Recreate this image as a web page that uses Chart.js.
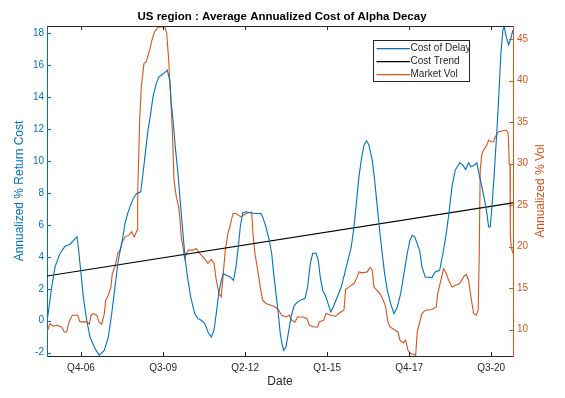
<!DOCTYPE html>
<html>
<head>
<meta charset="utf-8">
<script src="https://cdn.jsdelivr.net/npm/chart.js@4.4.1/dist/chart.umd.min.js"></script>
<style>
  html, body { margin: 0; padding: 0; background: #fff; }
  #wrap { position: relative; width: 565px; height: 398px; }
</style>
</head>
<body>
<div id="wrap"><canvas id="AlphaChart"></canvas></div>
<script>
// values (x in decimal years)
const costDates = [2005.634, 2005.678, 2005.768, 2005.879, 2006.046, 2006.214, 2006.381, 2006.525, 2006.616, 2006.66,
  2006.75, 2006.827, 2006.941, 2007.052, 2007.219, 2007.363, 2007.531, 2007.665, 2007.779, 2007.889,
  2008.0, 2008.134, 2008.225, 2008.315, 2008.392, 2008.503, 2008.617, 2008.751, 2008.828, 2008.905,
  2008.995, 2009.086, 2009.163, 2009.273, 2009.364, 2009.498, 2009.642, 2009.723, 2009.776, 2009.833,
  2009.91, 2010.0, 2010.091, 2010.168, 2010.245, 2010.336, 2010.426, 2010.56, 2010.671, 2010.782,
  2010.895, 2011.006, 2011.117, 2011.207, 2011.284, 2011.365, 2011.452, 2011.519, 2011.619, 2011.743,
  2011.861, 2011.944, 2012.021, 2012.088, 2012.169, 2012.28, 2012.447, 2012.615, 2012.782, 2012.839,
  2012.95, 2013.061, 2013.141, 2013.208, 2013.285, 2013.362, 2013.429, 2013.486, 2013.543, 2013.62,
  2013.697, 2013.787, 2013.898, 2014.012, 2014.146, 2014.257, 2014.347, 2014.434, 2014.515, 2014.625,
  2014.702, 2014.769, 2014.85, 2014.961, 2015.119, 2015.205, 2015.339, 2015.473, 2015.587, 2015.698,
  2015.808, 2015.899, 2015.989, 2016.066, 2016.143, 2016.234, 2016.325, 2016.402, 2016.512, 2016.593,
  2016.68, 2016.77, 2016.847, 2016.927, 2017.015, 2017.129, 2017.24, 2017.35, 2017.464, 2017.575,
  2017.685, 2017.776, 2017.853, 2017.933, 2018.02, 2018.10, 2018.178, 2018.288, 2018.513, 2018.623,
  2018.771, 2018.881, 2018.992, 2019.082, 2019.183, 2019.293, 2019.441, 2019.552, 2019.642, 2019.743,
  2019.82, 2019.93, 2020.021, 2020.088, 2020.188, 2020.279, 2020.356, 2020.413, 2020.467, 2020.524,
  2020.601, 2020.691, 2020.758, 2020.825, 2020.892, 2020.936, 2021.003, 2021.083, 2021.16, 2021.227];
const costValues = [0.23, 0.86, 2.11, 3.37, 4.21, 4.66, 4.79, 5.08, 5.25, 4.62,
  2.95, 1.49, 0.03, -1.02, -1.75, -2.17, -1.86, -1.02, 0.45, 2.11,
  3.79, 5.04, 6.09, 6.72, 7.13, 7.66, 7.97, 8.07, 9.22, 10.48,
  11.94, 12.99, 14.03, 14.87, 15.28, 15.45, 15.70, 15.07, 13.61, 12.57,
  10.89, 9.22, 7.13, 5.46, 3.79, 2.53, 1.49, 0.45, 0.13, 0.03,
  -0.18, -0.71, -1.02, -0.60, 0.45, 1.70, 2.53, 2.95, 2.85, 2.74,
  2.53, 3.37, 4.62, 5.87, 6.75, 6.82, 6.75, 6.72, 6.72, 6.50,
  5.87, 5.04, 4.21, 2.95, 1.70, 0.45, -0.81, -1.44, -1.86, -1.65,
  -0.81, 0.23, 0.97, 1.17, 1.32, 1.39, 2.11, 3.58, 4.21, 4.24,
  3.79, 2.74, 1.91, 1.49, 0.55, 0.86, 1.49, 2.11, 2.95, 3.79,
  4.62, 5.87, 7.55, 9.01, 10.06, 11.0, 11.27, 11.0, 10.06, 8.80,
  7.13, 5.46, 4.21, 2.95, 1.91, 1.07, 0.45, 0.86, 1.70, 2.95,
  4.21, 5.04, 5.35, 5.25, 4.83, 4.41, 3.37, 2.74, 2.70, 3.05,
  3.16, 4.21, 5.46, 6.72, 8.38, 9.43, 9.89, 9.74, 9.47, 9.89,
  9.64, 9.74, 9.89, 9.22, 8.38, 7.55, 6.72, 5.87, 5.87, 7.13,
  9.22, 11.94, 14.24, 16.75, 18.21, 18.42, 17.79, 17.27, 17.69, 18.21];

const trendDates = [2005.61, 2021.23];
const trendValues = [2.80, 7.38];

const volDates = [2005.634, 2005.711, 2005.822, 2005.936, 2006.103, 2006.19, 2006.271, 2006.348, 2006.458, 2006.639,
  2006.716, 2006.941, 2007.028, 2007.085, 2007.162, 2007.276, 2007.353, 2007.444, 2007.531, 2007.578,
  2007.665, 2007.755, 2007.799, 2007.889, 2007.98, 2008.057, 2008.134, 2008.225, 2008.359, 2008.449,
  2008.536, 2008.627, 2008.65, 2008.717, 2008.771, 2008.861, 2008.938, 2009.052, 2009.129, 2009.22,
  2009.33, 2009.555, 2009.622, 2009.689, 2009.756, 2009.81, 2009.867, 2009.944, 2010.024, 2010.068,
  2010.111, 2010.168, 2010.225, 2010.279, 2010.359, 2010.503, 2010.614, 2010.728, 2010.839, 2011.006,
  2011.117, 2011.207, 2011.284, 2011.375, 2011.452, 2011.509, 2011.586, 2011.676, 2011.767, 2011.844,
  2011.944, 2012.112, 2012.28, 2012.47, 2012.514, 2012.581, 2012.672, 2012.759, 2012.839, 2012.95,
  2013.118, 2013.262, 2013.376, 2013.477, 2013.62, 2013.731, 2013.811, 2013.922, 2014.012, 2014.18,
  2014.324, 2014.401, 2014.569, 2014.682, 2014.736, 2014.883, 2014.961, 2015.119, 2015.285, 2015.453,
  2015.564, 2015.62, 2015.731, 2015.899, 2016.01, 2016.066, 2016.177, 2016.345, 2016.435, 2016.512,
  2016.569, 2016.66, 2016.77, 2016.881, 2016.961, 2017.038, 2017.106, 2017.24, 2017.374, 2017.441,
  2017.552, 2017.632, 2017.709, 2017.799, 2017.967, 2018.02, 2018.178, 2018.288, 2018.513, 2018.657,
  2018.704, 2018.814, 2018.905, 2018.992, 2019.072, 2019.183, 2019.293, 2019.441, 2019.575, 2019.662,
  2019.743, 2019.82, 2019.91, 2019.997, 2020.064, 2020.098, 2020.131, 2020.188, 2020.245, 2020.356,
  2020.413, 2020.49, 2020.581, 2020.634, 2020.748, 2020.892, 2021.003, 2021.07, 2021.104, 2021.13,
  2021.14, 2021.17, 2021.227];
const volValues = [9.92, 10.72, 10.40, 10.52, 10.31, 9.71, 9.71, 10.92, 11.73, 11.73,
  10.92, 10.92, 10.64, 11.73, 11.93, 11.73, 10.92, 10.64, 11.93, 13.54,
  14.14, 15.14, 16.76, 17.56, 19.17, 19.57, 20.57, 21.18, 21.38, 21.78,
  21.18, 21.98, 26.41, 35.26, 39.28, 42.10, 42.30, 43.71, 44.92, 45.92,
  46.45, 46.52, 45.72, 42.50, 38.07, 34.05, 28.02, 26.0, 24.80, 23.19,
  21.18, 19.97, 18.57, 19.17, 19.57, 19.57, 19.78, 19.17, 18.76, 17.97,
  18.45, 17.97, 15.95, 14.34, 13.93, 16.35, 19.57, 21.59, 22.79, 24.0,
  24.0, 23.59, 24.0, 24.19, 21.59, 19.17, 17.16, 15.14, 13.54, 13.14,
  12.93, 12.73, 12.33, 11.73, 11.52, 11.73, 11.12, 10.92, 11.52, 11.52,
  11.33, 10.52, 10.31, 10.31, 10.92, 11.12, 11.93, 11.73, 11.61, 12.12,
  12.33, 14.83, 15.14, 15.55, 16.35, 16.95, 16.83, 16.95, 17.48, 17.16,
  15.14, 14.74, 14.34, 13.54, 12.73, 10.92, 10.31, 10.0, 9.71, 8.71,
  8.38, 8.71, 7.50, 7.10, 6.90, 9.71, 11.93, 12.33, 12.41, 12.73,
  14.34, 15.95, 17.36, 16.76, 15.95, 15.14, 15.35, 15.55, 16.35, 16.67,
  15.95, 13.93, 11.93, 11.73, 12.33, 19.17, 29.23, 31.24, 31.64, 32.24,
  32.85, 32.64, 32.64, 33.25, 33.85, 33.97, 34.05, 33.66, 30.04, 29.9,
  21.5, 20.0, 19.2];

const xTickValues = [2006.75, 2009.5, 2012.25, 2015.0, 2017.75, 2020.5];
const xTickLabels = ['Q4-06', 'Q3-09', 'Q2-12', 'Q1-15', 'Q4-17', 'Q3-20'];
const leftTicks = [-2, 0, 2, 4, 6, 8, 10, 12, 14, 16, 18];
const rightTicks = [10, 15, 20, 25, 30, 35, 40, 45];

const BLUE = '#0072BD';
const ORANGE = '#D95319';
const AXIS = '#262626';
const FONT = '"Liberation Sans", Arial, Helvetica, sans-serif';

const pairs = (xs, ys) => xs.map((x, i) => ({ x: x, y: ys[i] }));

// title, axis labels, legend box, inward tick marks and top border
const matlabLook = {
  id: 'matlabLook',
  afterDraw(chart) {
    const c = chart.ctx;
    const a = chart.chartArea;
    const sx = chart.scales.x, sy = chart.scales.y, sy1 = chart.scales.y1;
    c.save();
    c.lineWidth = 1;

    c.strokeStyle = AXIS;
    c.beginPath();
    c.moveTo(a.left, a.top + 0.5);
    c.lineTo(a.right, a.top + 0.5);
    c.stroke();
    xTickValues.forEach(v => {
      const px = Math.round(sx.getPixelForValue(v)) + 0.5;
      c.beginPath();
      c.moveTo(px, a.bottom); c.lineTo(px, a.bottom - 4);
      c.moveTo(px, a.top); c.lineTo(px, a.top + 4);
      c.stroke();
    });
    c.strokeStyle = BLUE;
    leftTicks.forEach(v => {
      const py = Math.round(sy.getPixelForValue(v)) + 0.5;
      c.beginPath(); c.moveTo(a.left, py); c.lineTo(a.left + 4, py); c.stroke();
    });
    c.strokeStyle = ORANGE;
    rightTicks.forEach(v => {
      const py = Math.round(sy1.getPixelForValue(v)) + 0.5;
      c.beginPath(); c.moveTo(a.right, py); c.lineTo(a.right - 4, py); c.stroke();
    });

    c.fillStyle = '#000';
    c.font = 'bold 11.5px ' + FONT;
    c.textAlign = 'center';
    c.textBaseline = 'alphabetic';
    c.fillText('US region : Average Annualized Cost of Alpha Decay', 282, 20);

    c.font = '12px ' + FONT;
    c.fillStyle = AXIS;
    c.textBaseline = 'middle';
    c.fillText('Date', (a.left + a.right) / 2, 382);

    const midY = (a.top + a.bottom) / 2;
    c.save();
    c.translate(20, midY);
    c.rotate(-Math.PI / 2);
    c.fillStyle = BLUE;
    c.fillText('Annualized % Return Cost', 0, 0);
    c.restore();
    c.save();
    c.translate(541, midY);
    c.rotate(-Math.PI / 2);
    c.fillStyle = ORANGE;
    c.fillText('Annualized % Vol', 0, 0);
    c.restore();

    // legend
    const lx = 373.5, ly = 40.5, lw = 96, lh = 41;
    c.fillStyle = '#fff';
    c.fillRect(lx, ly, lw, lh);
    c.strokeStyle = AXIS;
    c.strokeRect(lx, ly, lw, lh);
    const items = chart.data.datasets;
    c.font = '10px ' + FONT;
    c.textAlign = 'left';
    items.forEach((ds, i) => {
      const y = 48.7 + i * 13;
      c.strokeStyle = ds.borderColor;
      c.lineWidth = 1.2;
      c.beginPath(); c.moveTo(376.5, y); c.lineTo(410, y); c.stroke();
      c.fillStyle = AXIS;
      c.fillText(ds.label, 410.5, y);
    });
    c.restore();
  }
};

const initAlphaChart = () => {
  const ctx = document.getElementById('AlphaChart');
  if (!ctx)
    return

  const data = {
    datasets: [
      {
        label: 'Cost of Delay',
        data: pairs(costDates, costValues),
        borderColor: BLUE,
        borderWidth: 1.1,
        yAxisID: 'y',
      },
      {
        label: 'Cost Trend',
        data: pairs(trendDates, trendValues),
        borderColor: '#000000',
        borderWidth: 1.1,
        yAxisID: 'y',
      },
      {
        label: 'Market Vol',
        data: pairs(volDates, volValues),
        borderColor: ORANGE,
        borderWidth: 1.1,
        yAxisID: 'y1',
      },
    ]
  }

  const config = {
    type: 'line',
    data: data,
    plugins: [matlabLook],
    options: {
      responsive: false,
      animation: false,
      layout: { padding: { top: 26, left: 0, right: 0, bottom: 0 } },
      elements: { point: { radius: 0 }, line: { tension: 0 } },
      plugins: { legend: { display: false }, title: { display: false }, tooltip: { enabled: false } },
      scales: {
        x: {
          type: 'linear',
          min: 2005.61,
          max: 2021.23,
          afterBuildTicks: s => { s.ticks = xTickValues.map(v => ({ value: v })); },
          afterFit: s => { s.height = 42; },
          grid: { display: false, drawTicks: false },
          border: { display: true, color: AXIS, width: 1 },
          ticks: {
            color: AXIS,
            font: { family: FONT, size: 10 },
            padding: 6,
            maxRotation: 0,
            autoSkip: false,
            callback: (v, i) => xTickLabels[i],
          },
        },
        y: {
          position: 'left',
          min: -2.21,
          max: 18.46,
          afterBuildTicks: s => { s.ticks = leftTicks.map(v => ({ value: v })); },
          afterFit: s => { s.width = 47; },
          grid: { display: false, drawTicks: false },
          border: { display: true, color: BLUE, width: 1 },
          ticks: { color: BLUE, font: { family: FONT, size: 10 }, padding: 3 },
        },
        y1: {
          position: 'right',
          min: 6.81,
          max: 46.6,
          afterBuildTicks: s => { s.ticks = rightTicks.map(v => ({ value: v })); },
          afterFit: s => { s.width = 52; },
          grid: { display: false, drawTicks: false },
          border: { display: true, color: ORANGE, width: 1 },
          ticks: { color: ORANGE, font: { family: FONT, size: 10 }, padding: 4 },
        },
      },
    },
  };

  ctx.width = 565;
  ctx.height = 398;
  new Chart(ctx, config);
}

initAlphaChart();
</script>
</body>
</html>
